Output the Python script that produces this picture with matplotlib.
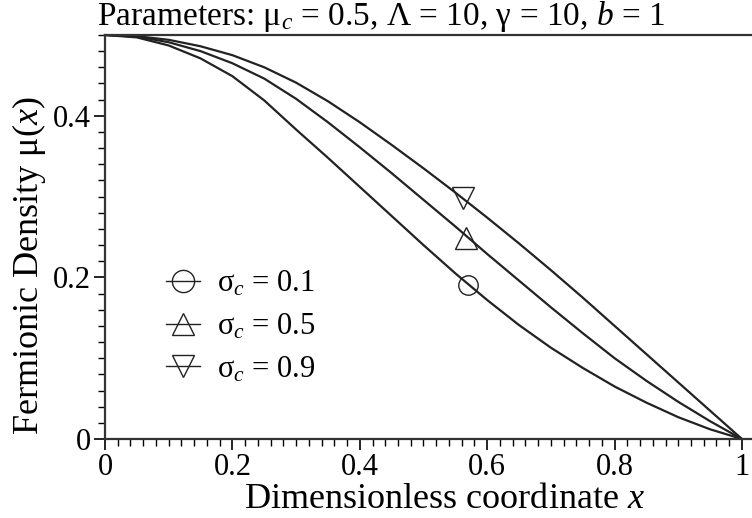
import numpy as np
import matplotlib
matplotlib.use("Agg")
import matplotlib.pyplot as plt
from matplotlib.ticker import MultipleLocator, FuncFormatter

plt.rcParams['font.family'] = ['Liberation Serif', 'DejaVu Serif']
plt.rcParams['mathtext.fontset'] = 'custom'
plt.rcParams['mathtext.rm'] = 'Liberation Serif'
plt.rcParams['mathtext.it'] = 'Liberation Serif:italic'

# Curve samples
x_vals = [0.0, 0.05, 0.1, 0.15, 0.2, 0.25, 0.3, 0.35, 0.4, 0.45, 0.5,
          0.55, 0.6, 0.65, 0.7, 0.75, 0.8, 0.85, 0.9, 0.95, 1.0]
mu_s01 = [0.500, 0.497, 0.487, 0.471, 0.449, 0.419, 0.383, 0.348, 0.312, 0.276, 0.240,
          0.205, 0.172, 0.141, 0.113, 0.088, 0.065, 0.045, 0.027, 0.012, 0.0]
mu_s05 = [0.500, 0.498, 0.491, 0.480, 0.465, 0.446, 0.421, 0.392, 0.361, 0.329, 0.296,
          0.263, 0.229, 0.196, 0.163, 0.131, 0.100, 0.072, 0.046, 0.022, 0.0]
mu_s09 = [0.500, 0.4985, 0.494, 0.486, 0.475, 0.460, 0.441, 0.418, 0.392, 0.364, 0.335,
          0.305, 0.274, 0.242, 0.209, 0.175, 0.140, 0.105, 0.070, 0.035, 0.0]

# marker positions on each curve
marker_x = [0.570, 0.566, 0.5625]
marker_y = [0.191, 0.249, 0.298]
markers = ['o', '^', 'v']
labels = [r'σ$_c$ = 0.1', r'σ$_c$ = 0.5', r'σ$_c$ = 0.9']

fig = plt.figure(figsize=(7.52, 5.18), dpi=100)
ax = fig.add_axes([0.1396, 0.1525, 0.864, 0.780])

for y, mx, my, m, lab in zip([mu_s01, mu_s05, mu_s09], marker_x, marker_y, markers, labels):
    ax.plot(x_vals, y, color='#222222', lw=1.6, solid_joinstyle='round')
    ax.plot([mx], [my], ls='none', marker=m, ms=14 if m == 'o' else 16,
            mfc='none', mec='#222222', mew=1.0)
    # legend proxy: line through hollow marker
    ax.plot([], [], color='#222222', lw=1.0, marker=m, ms=16, mfc='none',
            mec='#222222', mew=1.0, label=lab)

ax.set_xlim(0, 1.02)
ax.set_ylim(0, 0.5)
ax.xaxis.set_major_locator(MultipleLocator(0.2))
ax.xaxis.set_minor_locator(MultipleLocator(0.02))
ax.yaxis.set_major_locator(MultipleLocator(0.2))
ax.yaxis.set_minor_locator(MultipleLocator(0.02))
fmt = FuncFormatter(lambda v, p: '%g' % round(v, 3))
ax.xaxis.set_major_formatter(fmt)
ax.yaxis.set_major_formatter(fmt)
ax.tick_params(which='major', direction='out', length=8, width=1.2, labelsize=22, pad=2)
ax.tick_params(which='minor', direction='out', length=5, width=1.0)
ax.spines['right'].set_visible(False)
for s in ['left', 'bottom', 'top']:
    ax.spines[s].set_linewidth(1.6)
    ax.spines[s].set_color('#333333')

ax.set_xlabel(r'Dimensionless coordinate $x$', fontsize=26)
ax.xaxis.set_label_coords(0.523, -0.109)
ax.set_ylabel(r'Fermionic Density μ($x$)', fontsize=26)
ax.yaxis.set_label_coords(-0.088, 0.43)

fig.text(381 / 752, 1 - 25 / 518, r'Parameters: μ$_c$ = 0.5, Λ = 10, γ = 10, $b$ = 1',
         fontsize=24, ha='center', va='baseline')

ax.legend(loc='upper left', bbox_to_anchor=(0.071, 0.458), frameon=False, fontsize=22,
          handlelength=1.1, handletextpad=0.55, labelspacing=0.43, borderpad=0)

fig.savefig('out.png', dpi=100)
